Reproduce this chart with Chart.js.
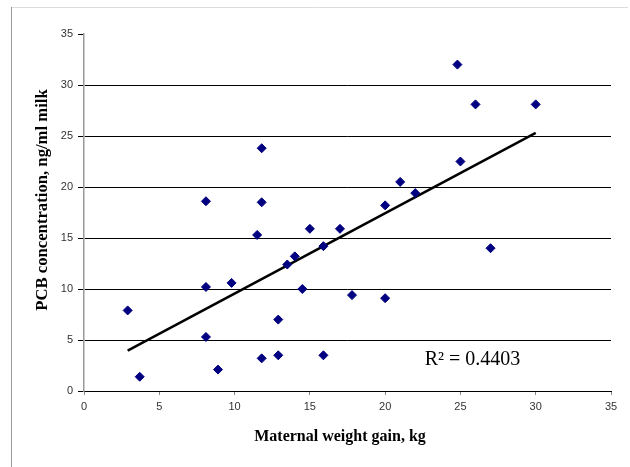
<!DOCTYPE html>
<html>
<head>
<meta charset="utf-8">
<script src="https://cdn.jsdelivr.net/npm/chart.js@4"></script>
<style>
  html, body { margin: 0; padding: 0; background: #fff; }
</style>
</head>
<body>
<canvas id="chart" width="630" height="467"></canvas>
<script>
// Maternal weight gain (kg) and PCB concentration (ng/ml milk)
const weightGain = [2.9, 3.7, 8.1, 8.1, 8.1, 8.9, 9.8, 11.5, 11.8, 11.8, 11.8, 12.9, 12.9, 13.5, 14.0,
                    14.5, 15.0, 15.9, 15.9, 17.0, 17.8, 20.0, 20.0, 21.0, 22.0, 24.8, 25.0, 26.0, 27.0, 30.0];
const pcbConc    = [7.9, 1.4, 18.6, 10.2, 5.3, 2.1, 10.6, 15.3, 23.8, 18.5, 3.2, 7.0, 3.5, 12.4, 13.2,
                    10.0, 15.9, 14.2, 3.5, 15.9, 9.4, 18.2, 9.1, 20.5, 19.4, 32.0, 22.5, 28.1, 14.0, 28.1];

// linear trend line end points
const trendX = [2.9, 30.0];
const trendY = [3.95, 25.3];
const rSquared = '0.4403';

const xTicks = [0, 5, 10, 15, 20, 25, 30, 35];
const yTicks = [0, 5, 10, 15, 20, 25, 30, 35];

const xTitle = 'Maternal weight gain, kg';
const yTitle = 'PCB concentration, ng/ml milk';

const serif = '"Liberation Serif", "Times New Roman", serif';

// outer frame, axis titles and the R² label
const extras = {
    id: 'extras',
    beforeDraw(chart) {
        const ctx = chart.ctx;
        ctx.save();
        ctx.fillStyle = '#fff';
        ctx.fillRect(0, 0, chart.width, chart.height);
        ctx.lineWidth = 1;
        ctx.strokeStyle = '#dcdcdc';
        ctx.beginPath();
        ctx.moveTo(11, 7.5);
        ctx.lineTo(628, 7.5);
        ctx.stroke();
        ctx.strokeStyle = '#9a9a9a';
        ctx.beginPath();
        ctx.moveTo(11.5, 7);
        ctx.lineTo(11.5, chart.height);
        ctx.stroke();
        ctx.restore();
    },
    afterDraw(chart) {
        const ctx = chart.ctx;
        ctx.save();
        ctx.fillStyle = '#000';
        ctx.textAlign = 'center';
        ctx.textBaseline = 'middle';

        // x title
        ctx.font = 'bold 16px ' + serif;
        ctx.fillText(xTitle, 340, 437);

        // y title
        ctx.save();
        ctx.translate(43, 200);
        ctx.rotate(-Math.PI / 2);
        ctx.font = 'bold 16.7px ' + serif;
        ctx.fillText(yTitle, 0, 0);
        ctx.restore();

        const x = chart.scales.x.getPixelForValue(25.8);
        const y = chart.scales.y.getPixelForValue(3.1);
        ctx.font = '20px ' + serif;
        ctx.fillText('R\u00b2 = ' + rSquared, x, y);
        ctx.restore();
    }
};

new Chart(document.getElementById('chart'), {
    type: 'scatter',
    data: {
        datasets: [{
            label: 'PCB',
            data: weightGain.map((w, i) => ({ x: w, y: pcbConc[i] })),
            pointStyle: 'rectRot',
            pointRadius: 4.5,
            backgroundColor: '#000080',
            borderColor: '#000080',
            borderWidth: 1,
            order: 1
        }, {
            label: 'Trend',
            type: 'line',
            data: trendX.map((x, i) => ({ x: x, y: trendY[i] })),
            borderColor: '#000',
            borderWidth: 2.5,
            pointRadius: 0,
            fill: false,
            order: 2
        }]
    },
    options: {
        responsive: false,
        animation: false,
        devicePixelRatio: 1,
        layout: { padding: { top: 34, right: 19, left: 0, bottom: 0 } },
        plugins: {
            legend: { display: false },
            tooltip: { enabled: false }
        },
        scales: {
            x: {
                type: 'linear',
                min: 0,
                max: 35,
                afterBuildTicks: s => { s.ticks = xTicks.map(v => ({ value: v })); },
                afterFit: s => { s.height = 76; },
                border: { color: '#000', width: 1 },
                grid: { drawOnChartArea: false, drawTicks: true, tickLength: 4, tickColor: '#888' },
                ticks: {
                    padding: 5,
                    color: '#333',
                    font: { family: '"Liberation Sans", Arial, sans-serif', size: 11 }
                }
            },
            y: {
                type: 'linear',
                min: 0,
                max: 35,
                afterBuildTicks: s => { s.ticks = yTicks.map(v => ({ value: v })); },
                afterFit: s => { s.width = 84; },
                border: { color: '#999', width: 1.5 },
                grid: {
                    color: c => (c.tick && (c.tick.value === 0 || c.tick.value === 35)) ? 'rgba(0,0,0,0)' : '#000',
                    tickColor: '#000',
                    tickLength: 6,
                    lineWidth: 1
                },
                ticks: {
                    padding: 5,
                    color: '#333',
                    font: { family: '"Liberation Sans", Arial, sans-serif', size: 11 }
                }
            }
        }
    },
    plugins: [extras]
});
</script>
</body>
</html>
